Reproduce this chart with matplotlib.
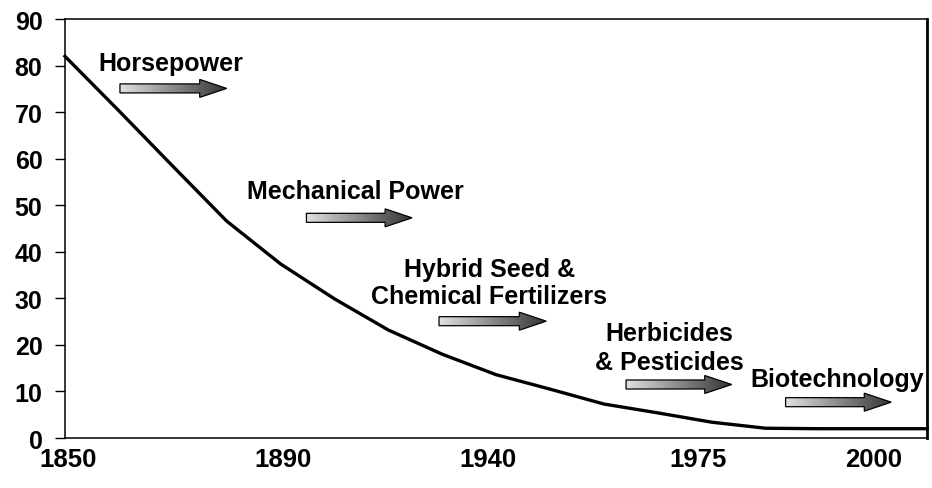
import matplotlib
matplotlib.use("Agg")
import matplotlib.pyplot as plt
import numpy as np
from matplotlib.patches import Polygon

plt.rcParams['font.family'] = ['Liberation Sans', 'DejaVu Sans']
plt.rcParams['font.weight'] = 'bold'

# Valeurs (points régulièrement espacés)
point_index = list(range(17))
values = [82, 70.3, 58.4, 46.6, 37.4, 29.9, 23.2, 18.0, 13.6, 10.5,
          7.3, 5.4, 3.4, 2.1, 2.0, 2.0, 2.0]

# Étiquettes de l'axe des x
year_labels = ["1850", "1890", "1940", "1975", "2000"]
year_pos = [0.05, 4.05, 7.85, 11.75, 15.0]

y_ticks = list(range(0, 91, 10))

# Étapes technologiques : texte, position du texte, flèche (x0, x1, y)
stages = ["Horsepower", "Mechanical Power", "Hybrid Seed &\nChemical Fertilizers",
          "Herbicides\n& Pesticides", "Biotechnology"]
text_x = [1.96, 5.38, 7.87, 11.22, 14.33]
text_y = [80.6, 53.0, 33.4, 19.4, 12.7]
text_ls = [1.0, 1.0, 1.12, 1.25, 1.0]
arrow_x0 = [1.02, 4.48, 6.94, 10.41, 13.37]
arrow_x1 = [3.0, 6.44, 8.93, 12.37, 15.33]
arrow_y = [75.1, 47.3, 25.1, 11.5, 7.7]

fig = plt.figure(figsize=(9.32, 4.89), dpi=100)
ax = fig.add_axes([0.0697, 0.1022, 0.9253, 0.8568])

ax.plot(point_index, values, color='black', lw=2.4, solid_joinstyle='round',
        clip_on=False, zorder=3)

ax.set_xlim(0, 16)
ax.set_ylim(0, 90)
ax.set_yticks(y_ticks)
ax.set_xticks(year_pos)
ax.set_xticklabels(year_labels)
ax.tick_params(axis='y', direction='out', length=7.2, width=1, labelsize=18, pad=9)
ax.tick_params(axis='x', length=0, labelsize=18.5, pad=6.5)
for lab in ax.get_xticklabels() + ax.get_yticklabels():
    lab.set_fontweight('bold')
for sp in ax.spines.values():
    sp.set_linewidth(1.1)
ax.spines['right'].set_linewidth(2)

# Dégradé gris clair -> gris foncé
grad = np.linspace(0.88, 0.2, 256).reshape(1, -1)

bh = 0.97   # demi-hauteur du corps
hh = 1.93   # demi-hauteur de la pointe
hl = 0.5    # longueur de la pointe
for x0, x1, y in zip(arrow_x0, arrow_x1, arrow_y):
    xs = x1 - hl
    pts = [(x0, y - bh), (xs, y - bh), (xs, y - hh), (x1, y),
           (xs, y + hh), (xs, y + bh), (x0, y + bh)]
    poly = Polygon(pts, closed=True, facecolor='none', edgecolor='black',
                   lw=0.9, zorder=5)
    ax.add_patch(poly)
    im = ax.imshow(grad, cmap='gray', vmin=0, vmax=1, aspect='auto',
                   extent=[x0, x1, y - hh, y + hh], zorder=4,
                   interpolation='bilinear')
    im.set_clip_path(poly)

for s, tx, ty, ls in zip(stages, text_x, text_y, text_ls):
    ax.text(tx, ty, s, ha='center', va='center', fontsize=18,
            fontweight='bold', linespacing=ls, zorder=6)

fig.savefig("out.png", dpi=100)
